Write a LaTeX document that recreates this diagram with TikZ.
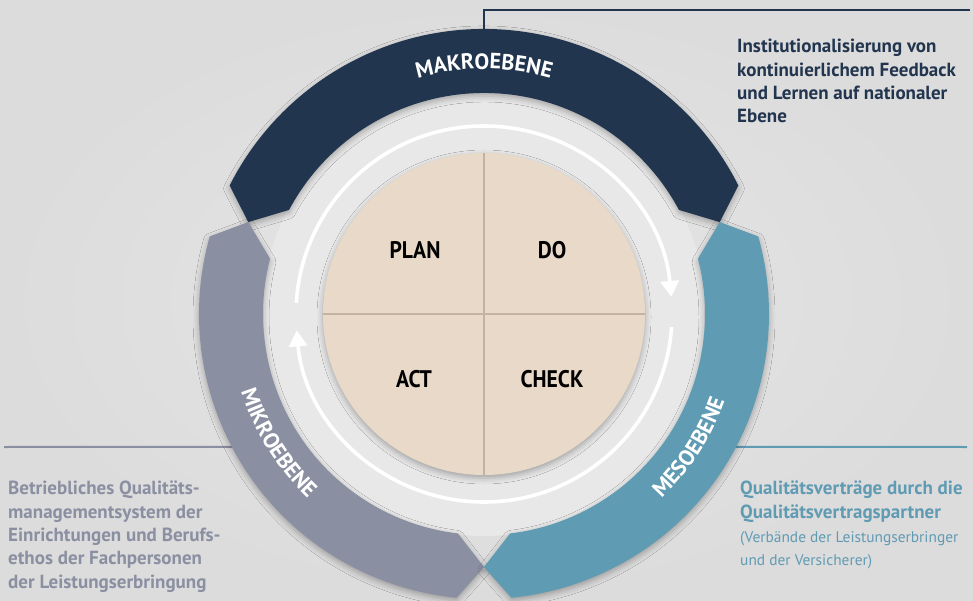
\documentclass[tikz,border=0pt]{standalone}
\usepackage{fontspec}
\setmainfont{PT Sans}
\newfontfamily\lblfont[FakeStretch=0.9]{PT Sans}
\usetikzlibrary{arrows.meta,decorations.text,shadows.blur,positioning}

\definecolor{makro}{HTML}{22354E}
\definecolor{mikro}{HTML}{8A8FA1}
\definecolor{meso}{HTML}{5F9BB3}
\definecolor{pdca}{HTML}{E8D9C8}
\definecolor{pdcaline}{HTML}{C4B3A1}
\definecolor{bginner}{HTML}{E6E6E6}
\definecolor{bgouter}{HTML}{DDDCDC}
\definecolor{discgrey}{HTML}{E8E8E8}

% one coloured piece of the outer ring, pointed at both ends
\newcommand{\ringpart}[3]{%
  \fill[#3,ringshadow] (#1:253) -- (#1+5.5:285)
    arc[start angle=#1+5.5,end angle=#2-5.5,radius=285] -- (#2:253)
    -- (#2-6.8:221) arc[start angle=#2-6.8,end angle=#1+6.8,radius=221] -- cycle;}

\begin{document}
\begin{tikzpicture}[x=1pt,y=1pt,
    ringshadow/.style={blur shadow={shadow xshift=0pt,shadow yshift=-3pt,shadow blur radius=6pt,shadow opacity=30}},
    loopline/.style={white,line width=3.6pt,-{Triangle[width=18pt,length=16pt]}},
    pdcalabel/.style={font=\lblfont\bfseries\fontsize{24}{24}\selectfont,text=black},
    ringlabel/.style={decorate,decoration={text along path,text align=center,text color=white,
        text={|\bfseries\fontsize{22}{22}\selectfont|#1}}},
    infotext/.style={anchor=north west,inner sep=0pt,align=left,font=\bfseries\fontsize{19}{23.3}\selectfont},
    infonote/.style={anchor=north west,inner sep=0pt,align=left,font=\fontsize{15.4}{23}\selectfont}]

\useasboundingbox (0,0) rectangle (973,600);
\shade[inner color=bginner,outer color=bgouter] (0,0) rectangle (973,600);

\coordinate (makroend) at (970,590);
\coordinate (mikroend) at (4,153);
\coordinate (mesoend) at (967,153);

\begin{scope}[shift={(484,286)}]
  \coordinate (makrotop) at (90:285);
  \coordinate (mikrotouch) at (207.8:285);
  \coordinate (mesotouch) at (332.2:285);

  \draw[makro,line width=2pt] (makrotop) |- (makroend);
  \draw[mikro,line width=2pt] (mikroend) -- (mikrotouch);
  \draw[meso,line width=2pt] (mesotouch) -- (mesoend);

  \fill[discgrey] (0,0) circle[radius=222];

  \ringpart{21.3}{158.7}{makro}
  \ringpart{158.7}{270}{mikro}
  \ringpart{270}{381.3}{meso}

  \path[ringlabel=MAKROEBENE] (120:245) arc[start angle=120,end angle=60,radius=245];
  \path[ringlabel=MIKROEBENE] (182:255) arc[start angle=182,end angle=242,radius=255];
  \path[ringlabel=MESOEBENE] (297:256) arc[start angle=297,end angle=357,radius=256];

  \draw[loopline] (176.6:188) arc[start angle=176.6,end angle=5.2,radius=188];
  \draw[loopline] (-4:188) arc[start angle=-4,end angle=-175,radius=188];

  \fill[pdca,ringshadow] (0,0) circle[radius=161];
  \draw[pdcaline,line width=1.6pt] (90:161) -- (270:161) (0:161) -- (180:161);

  \node[pdcalabel] (plan)  at (-69,64)   {PLAN};
  \node[pdcalabel] (do)    at (68,64)    {DO};
  \node[pdcalabel] (act)   at (-70,-65)  {ACT};
  \node[pdcalabel] (check) at (68,-65)   {CHECK};
\end{scope}

\node[infotext,text=makro] (makrotext) at (737,561)
  {Institutionalisierung von\\kontinuierlichem Feedback\\und Lernen auf nationaler\\Ebene};
\node[infotext,text=mikro] (mikrotext) at (8,119)
  {Betriebliches Qualitäts-\\managementsystem der\\Einrichtungen und Berufs-\\ethos der Fachpersonen\\der Leistungserbringung};
\node[infotext,text=meso] (mesotext) at (740,119)
  {Qualitätsverträge durch die\\Qualitätsvertragspartner};
\node[infonote,text=meso] (mesonote) at ([yshift=-9pt]mesotext.south west)
  {(Verbände der Leistungserbringer\\und der Versicherer)};
\end{tikzpicture}
\end{document}
